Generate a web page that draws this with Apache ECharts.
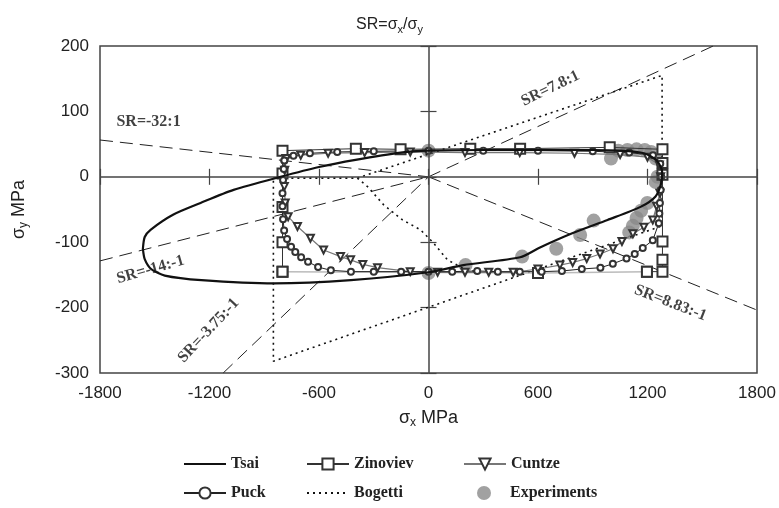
<!DOCTYPE html>
<html><head><meta charset="utf-8">
<script src="https://cdn.jsdelivr.net/npm/echarts@6/dist/echarts.min.js"></script>
<style>html,body{margin:0;padding:0;background:#fff}#c{width:779px;height:508px}</style>
</head><body><div id="c"></div>
<script>
// ---- data (MPa) ----
const tsai = [[-1565,-110],[-1555,-92],[-1523,-81],[-1400,-58],[-1249,-40],[-1068,-20],[-811,0],[-600,15],[-400,26],[-153,37],[0,40],[300,41],[600,41],[900,41],[1050,40],[1180,36],[1250,25],[1280,8],[1275,-10],[1244,-30],[1162,-46],[981,-66],[791,-86],[611,-108],[502,-123],[191,-135],[0,-146],[-425,-158],[-845,-163],[-1244,-158],[-1445,-151],[-1520,-141],[-1555,-126],[-1565,-110]];
const zinovievUpper = [[-800,-145],[-800,-100],[-800,-46],[-800,5],[-800,40],[-398,43],[-153,42],[229,43],[502,43],[993,45],[1282,42],[1282,21],[1282,3],[1282,-99],[1282,-127],[1282,-145],[1197,-145]];
const zinovievLower = [[1197,-145],[600,-147],[-800,-145]];
const cuntze = [[-780,28],[-700,33],[-550,36],[-350,37],[-100,38],[200,37],[500,37],[800,36],[1050,34],[1200,30],[1265,18],[1272,0],[1268,-25],[1250,-45],[1229,-66],[1180,-77],[1120,-87],[1060,-99],[1011,-110],[940,-118],[867,-125],[790,-131],[720,-135],[600,-141],[464,-146],[330,-146],[200,-146],[50,-146],[-100,-145],[-279,-139],[-360,-134],[-427,-127],[-482,-122],[-575,-112],[-647,-94],[-718,-76],[-769,-61],[-785,-40],[-790,-15],[-788,10],[-780,28]];
const puck = [[-790,25],[-740,32],[-650,36],[-500,38],[-300,39],[0,40],[300,40],[600,40],[900,39],[1100,37],[1230,33],[1270,20],[1275,0],[1272,-20],[1268,-40],[1265,-56],[1262,-71],[1229,-97],[1174,-109],[1130,-118],[1085,-125],[1010,-133],[942,-139],[840,-141],[731,-144],[620,-145],[500,-145],[380,-145],[267,-144],[130,-145],[0,-145],[-150,-145],[-300,-145],[-425,-145],[-535,-143],[-605,-138],[-660,-130],[-698,-123],[-730,-115],[-753,-107],[-775,-95],[-791,-82],[-797,-65],[-800,-45],[-800,-25],[-797,-5],[-793,12],[-790,25]];
const bogettiOuter = [[-850,-2],[-390,-2],[1280,155],[1280,-75],[-850,-282],[-850,-2]];
const bogettiInner = [[-390,-2],[-334,-15],[-245,-43],[-142,-66],[-44,-81],[27,-101],[104,-127],[190,-140],[260,-145]];
const experiments = [[0,40],[1000,28],[1040,40],[1090,41],[1140,42],[1185,41],[1220,38],[1245,28],[1255,0],[1245,-8],[1199,-40],[1165,-52],[1140,-63],[1120,-75],[1100,-85],[905,-67],[831,-89],[700,-110],[513,-122],[203,-135],[0,-147]];
const srLines = {
  m32: [[-1800,56.25],[0,0]],
  p78: [[0,0],[1560,200]],
  p14: [[-1800,-128.6],[0,0]],
  p375: [[-1125,-300],[0,0]],
  m883: [[0,0],[1800,-203.8]]
};
const srLabelTexts = ['SR=-32:1','SR=7.8:1','SR=-14:-1','SR=-3.75:-1','SR=8.83:-1'];
const srLabelAnchors = [[-1534,84],[668,135],[-1523,-142],[-1205,-235],[1326,-193]];
const legendNames = ['Tsai','Zinoviev','Cuntze','Puck','Bogetti','Experiments'];
const xRange = [-1800,1800], yRange = [-300,200];

// ---- chart ----
const srRot = [0,26,16,47,-21];
const chart = echarts.init(document.getElementById('c'));
const serif = 'Liberation Serif, Times New Roman, serif';
const sans = 'Liberation Sans, Arial, sans-serif';
const axisLabel = {fontSize:17, color:'#222', fontFamily:sans, formatter:v=>String(v)};
function srSeries(d){
  return {type:'line', data:d, symbol:'none', silent:true, z:1,
    lineStyle:{color:'#222', width:1, type:[13,7]}, itemStyle:{color:'#222'}};
}
const series = [
  {name:'Tsai', type:'line', data:tsai, smooth:0.25, symbol:'none', z:5,
    lineStyle:{color:'#111', width:2.2}, itemStyle:{color:'#111'},
    markLine:{silent:true, symbol:['none','none'], label:{show:false},
      lineStyle:{color:'#444', width:1.5, type:'solid'},
      data:[{xAxis:0},{yAxis:0}]}},
  {name:'Zinoviev', type:'line', data:zinovievUpper, symbol:'emptyRect', symbolSize:10, z:4,
    lineStyle:{color:'#333', width:1}, itemStyle:{color:'#333', borderWidth:1.2}},
  {name:'Zinoviev', type:'line', data:zinovievLower, symbol:'emptyRect', symbolSize:10, z:4,
    lineStyle:{color:'#bbb', width:1.5}, itemStyle:{color:'#333', borderWidth:1.2}},
  {name:'Cuntze', type:'line', data:cuntze, symbol:'emptyTriangle', symbolRotate:180, symbolSize:7, z:4,
    lineStyle:{color:'#777', width:1.2}, itemStyle:{color:'#333', borderWidth:1}},
  {name:'Puck', type:'line', data:puck, symbol:'emptyCircle', symbolSize:6, z:4,
    lineStyle:{color:'#222', width:1}, itemStyle:{color:'#333', borderWidth:1}},
  {name:'Bogetti', type:'line', data:bogettiOuter, symbol:'none', z:3,
    lineStyle:{color:'#111', width:1.6, type:[2,4]}, itemStyle:{color:'#111'}},
  {name:'Bogetti', type:'line', data:bogettiInner, symbol:'none', z:3,
    lineStyle:{color:'#111', width:1.6, type:[2,4]}, itemStyle:{color:'#111'}},
  {name:'Experiments', type:'scatter', data:experiments, symbol:'circle', symbolSize:14, z:2,
    itemStyle:{color:'#8a8a8a'}},
  srSeries(srLines.m32), srSeries(srLines.p78), srSeries(srLines.p14), srSeries(srLines.p375), srSeries(srLines.m883),
  {type:'scatter', symbolSize:0, silent:true, z:6,
    data: srLabelAnchors.map((p,i)=>({value:p, name:srLabelTexts[i],
      label:{show:true, position:'inside', rotate:srRot[i], formatter:'{b}'}})),
    label:{fontFamily:serif, fontWeight:'bold', fontSize:16, color:'#111'}}
];
const legLeft = [183, 306, 463, 183, 306, 477], legTop = [456, 485];
const noSymbol = {'Tsai':1, 'Bogetti':1};
const legends = legendNames.map((n,i)=>({
  data:[noSymbol[n] ? {name:n, itemStyle:{opacity:0}} : n],
  left:legLeft[i], top:legTop[Math.floor(i/3)],
  itemWidth:42, itemHeight:14, selectedMode:false, padding:0,
  textStyle:{fontFamily:serif, fontWeight:'bold', fontSize:16, color:'#222'}
}));
chart.setOption({
  animation:false,
  backgroundColor:'#fff',
  title:{text:'SR=σ{sub|x}/σ{sub|y}', left:'center', top:10,
    textStyle:{fontFamily:sans, fontSize:16, fontWeight:'normal', color:'#222',
      rich:{sub:{fontFamily:sans, fontSize:11, color:'#222', padding:[9,0,0,0]}}}},
  legend:legends,
  grid:{left:100, right:22, top:46, bottom:135, show:true, borderColor:'#444', borderWidth:1.5, backgroundColor:'transparent'},
  xAxis:[
    {type:'value', min:xRange[0], max:xRange[1], interval:600, position:'bottom',
      axisLine:{show:false}, splitLine:{show:false},
      axisTick:{show:true, inside:true, length:8, lineStyle:{color:'#444', width:1.2}},
      axisLabel:Object.assign({margin:12}, axisLabel),
      name:'{s|σ}{sub|x}{s| MPa}', nameLocation:'middle', nameGap:34,
      nameTextStyle:{rich:{s:{fontFamily:sans, fontSize:18, color:'#222'}, sub:{fontFamily:sans, fontSize:12, color:'#222', padding:[10,0,0,0]}}}},
    {type:'value', min:xRange[0], max:xRange[1], interval:600, position:'top',
      axisLine:{show:false}, splitLine:{show:false}, axisLabel:{show:false},
      axisTick:{show:true, inside:true, length:8, lineStyle:{color:'#444', width:1.2}}}
  ],
  yAxis:[
    {type:'value', min:yRange[0], max:yRange[1], interval:100, position:'left',
      axisLine:{show:false}, splitLine:{show:false},
      axisTick:{show:true, inside:true, length:8, lineStyle:{color:'#444', width:1.2}},
      axisLabel:Object.assign({margin:11}, axisLabel),
      name:'{s|σ}{sub|y}{s| MPa}', nameLocation:'middle', nameGap:70, nameRotate:90,
      nameTextStyle:{rich:{s:{fontFamily:sans, fontSize:18, color:'#222'}, sub:{fontFamily:sans, fontSize:12, color:'#222', padding:[10,0,0,0]}}}},
    {type:'value', min:yRange[0], max:yRange[1], interval:100, position:'right',
      axisLine:{show:false}, splitLine:{show:false}, axisLabel:{show:false},
      axisTick:{show:true, inside:true, length:8, lineStyle:{color:'#444', width:1.2}}}
  ],
  series:series
});
</script></body></html>
